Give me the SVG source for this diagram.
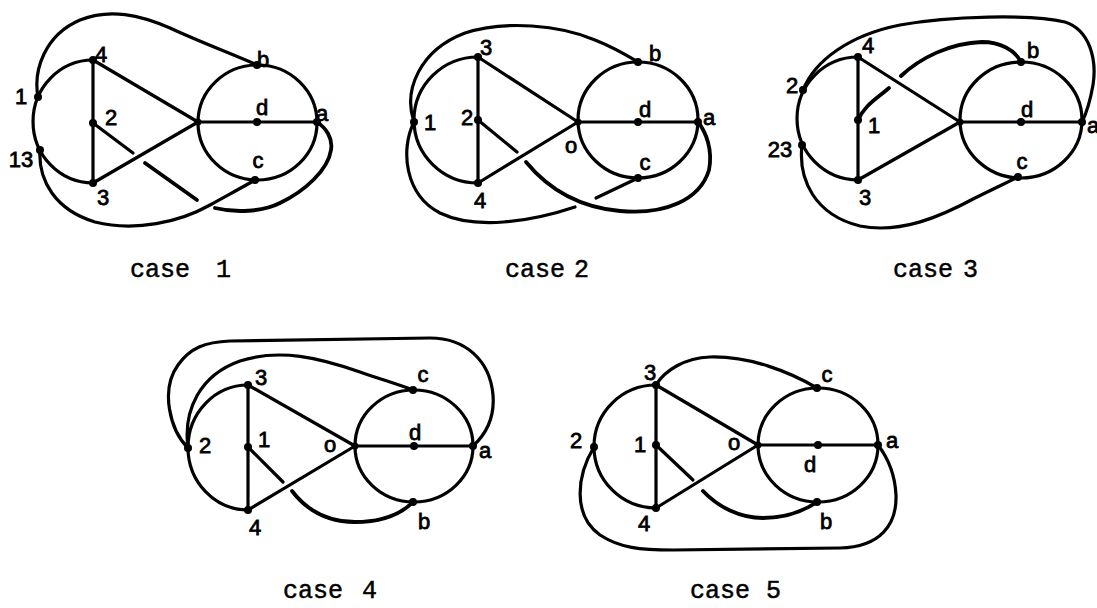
<svg xmlns="http://www.w3.org/2000/svg" width="1097" height="608" viewBox="0 0 1097 608">
<style>
.e{fill:none;stroke:#000;stroke-width:3.2;stroke-linecap:round;stroke-linejoin:round}
.k{stroke-width:3.8}
.v{fill:#000}
.l{font-family:"Liberation Sans",Arial,sans-serif;font-size:22px;text-anchor:middle;fill:#000;stroke:#000;stroke-width:0.8}
.cap{font-family:"Liberation Mono","Courier New",monospace;font-size:25px;fill:#000;stroke:#000;stroke-width:0.5}
</style>
<rect width="1097" height="608" fill="#fff"/>

<!-- CASE 1 -->
<g id="case1">
<g id="c1-connectors">
<path class="e" d="M93,60 A60,61.5 0 0 0 93,183"/>
<path class="e" d="M93,60 L93,183"/>
<path class="e" d="M93,60 L198,122"/>
<path class="e" d="M93,183 L198,122"/>
<ellipse class="e" cx="257.5" cy="122.5" rx="59.5" ry="57.5"/>
<path class="e" d="M198,122 L317,122"/>
<path class="e" d="M38,97 C33,70 45,35 80,20 C110,8 140,15 170,28 C200,42 235,55 257,65"/>
<path class="e" d="M40,150 C38,180 55,210 95,222 C135,232 180,222 210,205 C228,195 243,187 255,180"/>
<path class="e" d="M93,123 L133,153"/>
<path class="e k" d="M145,163 L197,200"/>
<path class="e k" d="M215,208 C235,213 262,212 280,203 C305,191 328,170 331,150 C333,138 326,128 317,122"/>
</g>
<g id="c1-n4"><circle class="v" cx="93" cy="60" r="4"/><text class="l" x="101" y="62">4</text></g>
<g id="c1-n1"><circle class="v" cx="38" cy="97" r="4"/><text class="l" x="21" y="104">1</text></g>
<g id="c1-n13"><circle class="v" cx="40" cy="150" r="4"/><text class="l" x="21" y="167">13</text></g>
<g id="c1-n2"><circle class="v" cx="93" cy="123" r="4"/><text class="l" x="111" y="125">2</text></g>
<g id="c1-n3"><circle class="v" cx="93" cy="183" r="4"/><text class="l" x="103" y="205">3</text></g>
<g id="c1-nO"><circle class="v" cx="198" cy="122" r="3.5"/></g>
<g id="c1-nd"><circle class="v" cx="257" cy="122" r="4"/><text class="l" x="262" y="115">d</text></g>
<g id="c1-na"><circle class="v" cx="317" cy="122" r="4"/><text class="l" x="322" y="121">a</text></g>
<g id="c1-nb"><circle class="v" cx="257" cy="65" r="4"/><text class="l" x="263" y="67">b</text></g>
<g id="c1-nc"><circle class="v" cx="255" cy="180" r="4"/><text class="l" x="258" y="168">c</text></g>
<text class="cap" x="130" y="277">case</text>
<text class="cap" x="216" y="277">1</text>
</g>

<!-- CASE 2 -->
<g id="case2">
<g id="c2-connectors">
<path class="e" d="M478,57 A64,63 0 0 0 478,183"/>
<path class="e" d="M478,57 L478,183"/>
<path class="e" d="M478,57 L578,122"/>
<path class="e" d="M478,183 L578,122"/>
<ellipse class="e" cx="638" cy="120" rx="60" ry="58"/>
<path class="e" d="M578,122 L698,122"/>
<path class="e" d="M414,122 C403,90 420,50 465,33 C505,20 560,25 595,40 C615,48 628,56 638,62"/>
<path class="e" d="M414,122 C400,150 405,195 440,213 C475,230 530,222 575,207"/>
<path class="e" d="M596,198 L638,178"/>
<path class="e" d="M478,120 L517,152"/>
<path class="e k" d="M526,162 C545,185 575,207 620,211 C665,215 700,200 709,170 C713,150 706,132 698,122"/>
</g>
<g id="c2-n3"><circle class="v" cx="478" cy="57" r="4"/><text class="l" x="486" y="55">3</text></g>
<g id="c2-n1"><circle class="v" cx="414" cy="122" r="4"/><text class="l" x="430" y="130">1</text></g>
<g id="c2-n2"><circle class="v" cx="478" cy="120" r="4"/><text class="l" x="467" y="125">2</text></g>
<g id="c2-n4"><circle class="v" cx="478" cy="183" r="4"/><text class="l" x="480" y="208">4</text></g>
<g id="c2-nO"><circle class="v" cx="578" cy="122" r="3.5"/><text class="l" x="571" y="153">o</text></g>
<g id="c2-nd"><circle class="v" cx="638" cy="122" r="4"/><text class="l" x="645" y="117">d</text></g>
<g id="c2-na"><circle class="v" cx="698" cy="122" r="4"/><text class="l" x="709" y="125">a</text></g>
<g id="c2-nb"><circle class="v" cx="638" cy="62" r="4"/><text class="l" x="655" y="61">b</text></g>
<g id="c2-nc"><circle class="v" cx="638" cy="178" r="4"/><text class="l" x="645" y="170">c</text></g>
<text class="cap" x="505" y="277">case</text>
<text class="cap" x="574" y="277">2</text>
</g>

<!-- CASE 3 -->
<g id="case3">
<g id="c3-connectors">
<path class="e" d="M858,57 A61,61.5 0 0 0 858,180"/>
<path class="e" d="M858,57 L858,180"/>
<path class="e" d="M858,57 L960,122"/>
<path class="e" d="M858,180 L960,122"/>
<ellipse class="e" cx="1021" cy="120" rx="61" ry="58"/>
<path class="e" d="M960,122 L1082,122"/>
<path class="e k" d="M858,120 C865,105 875,100 889,88"/>
<path class="e k" d="M901,76 C920,58 950,43 982,42 C1000,42 1015,50 1021,62"/>
<path class="e" d="M803,90 C815,60 850,35 900,25 C950,16 1030,14 1065,22 C1090,30 1097,60 1093,85 C1090,102 1086,114 1082,122"/>
<path class="e" d="M802,145 C798,180 815,215 860,226 C900,234 940,217 975,198 C995,188 1008,182 1018,177"/>
</g>
<g id="c3-n4"><circle class="v" cx="858" cy="57" r="4"/><text class="l" x="868" y="53">4</text></g>
<g id="c3-n2"><circle class="v" cx="803" cy="90" r="4"/><text class="l" x="792" y="93">2</text></g>
<g id="c3-n23"><circle class="v" cx="802" cy="145" r="4"/><text class="l" x="780" y="157">23</text></g>
<g id="c3-n1"><circle class="v" cx="858" cy="120" r="4"/><text class="l" x="874" y="133">1</text></g>
<g id="c3-n3"><circle class="v" cx="858" cy="180" r="4"/><text class="l" x="865" y="205">3</text></g>
<g id="c3-nO"><circle class="v" cx="960" cy="122" r="3.5"/></g>
<g id="c3-nd"><circle class="v" cx="1021" cy="122" r="4"/><text class="l" x="1027" y="117">d</text></g>
<g id="c3-na"><circle class="v" cx="1082" cy="122" r="4"/><text class="l" x="1093" y="133">a</text></g>
<g id="c3-nb"><circle class="v" cx="1021" cy="62" r="4"/><text class="l" x="1033" y="58">b</text></g>
<g id="c3-nc"><circle class="v" cx="1018" cy="177" r="4"/><text class="l" x="1022" y="169">c</text></g>
<text class="cap" x="893" y="277">case</text>
<text class="cap" x="963" y="277">3</text>
</g>

<!-- CASE 4 -->
<g id="case4">
<g id="c4-connectors">
<path class="e" d="M248,385 A60,62.5 0 0 0 248,510"/>
<path class="e" d="M248,385 L248,510"/>
<path class="e" d="M248,385 L355,446"/>
<path class="e" d="M248,510 L355,446"/>
<ellipse class="e" cx="414" cy="446" rx="59" ry="56"/>
<path class="e" d="M355,446 L473,446"/>
<path class="e" d="M188,448 C170,430 160,390 178,365 C190,348 205,342 230,341 L430,338 C465,338 490,360 493,395 C495,420 485,435 473,446"/>
<path class="e" d="M188,448 C183,410 200,375 240,361 C280,348 320,358 360,372 C380,379 400,385 413,390"/>
<path class="e" d="M248,447 L283,482"/>
<path class="e k" d="M292,491 C305,508 325,522 355,522 C380,522 400,515 413,502"/>
</g>
<g id="c4-n3"><circle class="v" cx="248" cy="385" r="4"/><text class="l" x="261" y="385">3</text></g>
<g id="c4-n2"><circle class="v" cx="188" cy="448" r="4"/><text class="l" x="205" y="453">2</text></g>
<g id="c4-n1"><circle class="v" cx="248" cy="447" r="4"/><text class="l" x="264" y="447">1</text></g>
<g id="c4-n4"><circle class="v" cx="248" cy="510" r="4"/><text class="l" x="255" y="535">4</text></g>
<g id="c4-nO"><circle class="v" cx="355" cy="446" r="3.5"/><text class="l" x="330" y="452">o</text></g>
<g id="c4-nd"><circle class="v" cx="414" cy="446" r="4"/><text class="l" x="415" y="440">d</text></g>
<g id="c4-na"><circle class="v" cx="473" cy="446" r="4"/><text class="l" x="485" y="458">a</text></g>
<g id="c4-nc"><circle class="v" cx="413" cy="390" r="4"/><text class="l" x="423" y="382">c</text></g>
<g id="c4-nb"><circle class="v" cx="413" cy="502" r="4"/><text class="l" x="424" y="529">b</text></g>
<text class="cap" x="283" y="598">case</text>
<text class="cap" x="362" y="598">4</text>
</g>

<!-- CASE 5 -->
<g id="case5">
<g id="c5-connectors">
<path class="e" d="M656,385 A62,61.5 0 0 0 656,508"/>
<path class="e" d="M656,385 L656,508"/>
<path class="e" d="M656,385 L758,445"/>
<path class="e" d="M656,508 L758,445"/>
<ellipse class="e" cx="818" cy="445" rx="60" ry="57"/>
<path class="e" d="M758,445 L878,445"/>
<path class="e" d="M656,385 C665,370 685,358 710,357 C750,356 790,372 817,388"/>
<path class="e" d="M594,447 C577,475 572,515 600,535 C620,548 640,550 673,550 L840,548 C880,547 897,525 896,495 C895,475 888,458 878,445"/>
<path class="e" d="M656,445 L693,480"/>
<path class="e k" d="M703,491 C718,507 740,518 763,518 C787,518 805,510 817,502"/>
</g>
<g id="c5-n3"><circle class="v" cx="656" cy="385" r="4"/><text class="l" x="650" y="380">3</text></g>
<g id="c5-n2"><circle class="v" cx="594" cy="447" r="4"/><text class="l" x="576" y="448">2</text></g>
<g id="c5-n1"><circle class="v" cx="656" cy="445" r="4"/><text class="l" x="640" y="452">1</text></g>
<g id="c5-n4"><circle class="v" cx="656" cy="508" r="4"/><text class="l" x="644" y="531">4</text></g>
<g id="c5-nO"><circle class="v" cx="758" cy="445" r="3.5"/><text class="l" x="734" y="450">o</text></g>
<g id="c5-nd"><circle class="v" cx="818" cy="445" r="4"/><text class="l" x="810" y="472">d</text></g>
<g id="c5-na"><circle class="v" cx="878" cy="445" r="4"/><text class="l" x="892" y="448">a</text></g>
<g id="c5-nc"><circle class="v" cx="817" cy="388" r="4"/><text class="l" x="827" y="382">c</text></g>
<g id="c5-nb"><circle class="v" cx="817" cy="502" r="4"/><text class="l" x="826" y="529">b</text></g>
<text class="cap" x="690" y="598">case</text>
<text class="cap" x="766" y="598">5</text>
</g>
</svg>
